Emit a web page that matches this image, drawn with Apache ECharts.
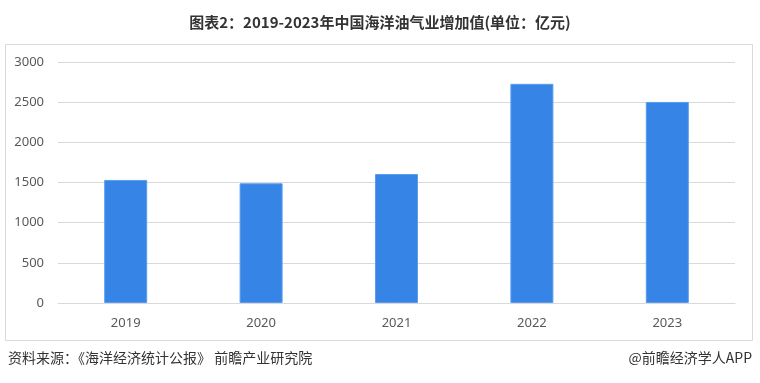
<!DOCTYPE html>
<html><head><meta charset="utf-8">
<script src="https://cdn.jsdelivr.net/npm/echarts@6/dist/echarts.min.js"></script>
<style>html,body{margin:0;padding:0;background:#fff}#c{width:760px;height:383px}</style>
</head><body><div id="c"></div>
<script>
const titleText = '图表2：2019-2023年中国海洋油气业增加值(单位：亿元)';
const categories = ['2019', '2020', '2021', '2022', '2023'];
const values = [1532, 1490, 1606, 2728, 2503];
const yTicks = [0, 500, 1000, 1500, 2000, 2500, 3000];
const sourceText = '资料来源：《海洋经济统计公报》 前瞻产业研究院';
const brandText = '@前瞻经济学人APP';

const chart = echarts.init(document.getElementById('c'), null, {renderer: 'canvas'});
chart.setOption({
  animation: false,
  backgroundColor: '#fff',
  title: {
    text: titleText, left: 'center', top: 10,
    textStyle: {fontSize: 15, fontWeight: 'bold', color: '#333', fontFamily: 'Noto Sans CJK SC'}
  },
  graphic: [
    {type: 'rect', shape: {x: 5.5, y: 44.5, width: 747, height: 296}, style: {fill: 'none', stroke: '#d9d9d9', lineWidth: 1}, z: -1},
    {type: 'text', left: 8, top: 351, style: {text: sourceText, fill: '#333', font: '14px "Noto Sans CJK SC"'}},
    {type: 'text', right: 8, top: 351, style: {text: brandText, fill: '#333', font: '14px "Noto Sans CJK SC"'}}
  ],
  grid: {left: 58, right: 25, top: 62, bottom: 80, containLabel: false},
  xAxis: {
    type: 'category', data: categories,
    axisLine: {lineStyle: {color: '#d9d9d9'}},
    axisTick: {show: false},
    axisLabel: {color: '#595959', fontSize: 13, margin: 14, fontFamily: 'Noto Sans'}
  },
  yAxis: {
    type: 'value', min: yTicks[0], max: yTicks[yTicks.length - 1], interval: 500,
    axisLine: {show: false}, axisTick: {show: false},
    splitLine: {lineStyle: {color: '#d9d9d9'}},
    axisLabel: {color: '#595959', fontSize: 13, margin: 14, fontFamily: 'Noto Sans', formatter: v => String(v)}
  },
  series: [{
    type: 'bar', data: values, barWidth: 43,
    itemStyle: {color: '#3584e6', borderColor: '#5b9cf0', borderWidth: 1}
  }]
});
</script></body></html>
